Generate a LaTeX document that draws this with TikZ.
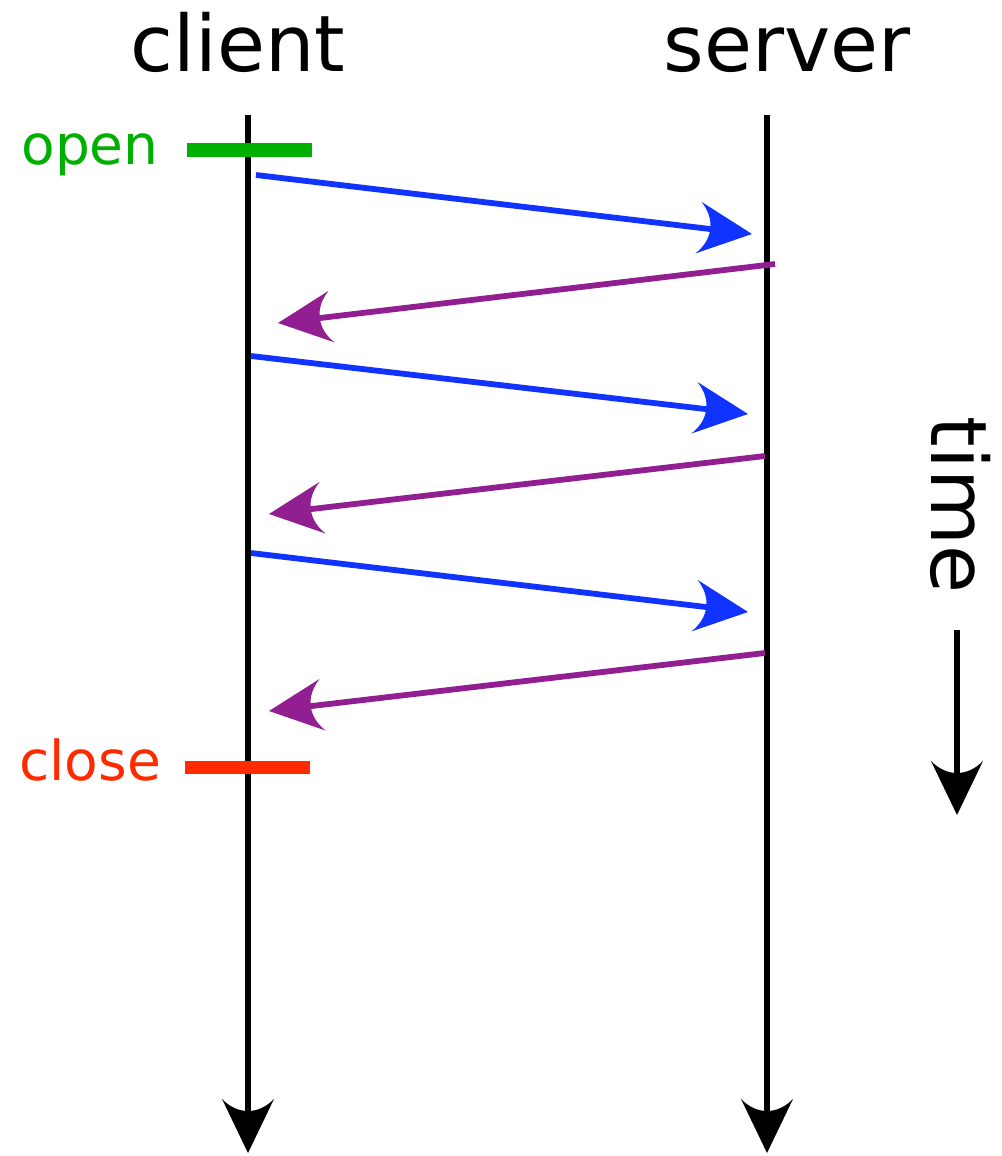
\documentclass[tikz,border=0pt]{standalone}
\usepackage{fontspec}
\setmainfont{DejaVu Sans}
\usetikzlibrary{arrows.meta}
\definecolor{msgblue}{RGB}{17,51,255}
\definecolor{msgpurple}{RGB}{146,31,146}
\definecolor{opengreen}{RGB}{0,176,0}
\definecolor{closered}{RGB}{255,42,0}
\pgfdeclarearrow{
  name = Ink,
  setup code = {
    \pgfarrowssettipend{0pt}
    \pgfarrowssetlineend{-18pt}
    \pgfarrowssetbackend{-27pt}
    \pgfarrowshullpoint{0pt}{0pt}
    \pgfarrowshullpoint{-27pt}{13pt}
    \pgfarrowshullpoint{-27pt}{-13pt}
  },
  drawing code = {
    \pgfpathmoveto{\pgfpointorigin}
    \pgfpathlineto{\pgfpoint{-27pt}{13pt}}
    \pgfpathcurveto{\pgfpoint{-19pt}{5.2pt}}{\pgfpoint{-19pt}{-5.2pt}}{\pgfpoint{-27pt}{-13pt}}
    \pgfpathclose
    \pgfusepathqfill
  }
}
\tikzset{
  lifeline/.style={color=black, line width=3.2pt, -Ink},
  request/.style={color=msgblue, line width=2.9pt, -Ink},
  reply/.style={color=msgpurple, line width=2.9pt, -Ink},
  bigtext/.style={font=\fontsize{39}{46}\selectfont, inner sep=0pt, anchor=base},
  marktext/.style={font=\fontsize{27.5}{33}\selectfont, inner sep=0pt, anchor=base},
  bar/.style={line width=7pt, line cap=butt}
}
\begin{document}
\begin{tikzpicture}[x=0.5pt, y=-0.5pt]
\useasboundingbox (0,0) rectangle (1001,1156);
% titles
\node[bigtext] (client) at (238,72) {client};
\node[bigtext] (server) at (787,72) {server};
% lifelines
\coordinate (ctop) at (248,115);
\coordinate (cbot) at (248,1153);
\coordinate (stop) at (767,115);
\coordinate (sbot) at (767,1153);
\draw[lifeline] (ctop) -- (cbot);
\draw[lifeline] (stop) -- (sbot);
% open / close
\node[marktext, text=opengreen] (open) at (90,164) {open};
\coordinate (o1) at (187,150);
\coordinate (o2) at (312,150);
\draw[bar, opengreen] (o1) -- (o2);
\node[marktext, text=closered] (close) at (90,780) {close};
\coordinate (k1) at (185,767.5);
\coordinate (k2) at (310,767.5);
\draw[bar, closered, line width=6.5pt] (k1) -- (k2);
% messages
\coordinate (a1) at (256,175);  \coordinate (b1) at (752,234);
\coordinate (a2) at (775,264);  \coordinate (b2) at (278,323);
\coordinate (a3) at (251,356);  \coordinate (b3) at (748,414);
\coordinate (a4) at (765,456);  \coordinate (b4) at (269,514);
\coordinate (a5) at (251,553);  \coordinate (b5) at (748,612);
\coordinate (a6) at (765,653);  \coordinate (b6) at (269,711);
\draw[request] (a1) -- (b1);
\draw[reply] (a2) -- (b2);
\draw[request] (a3) -- (b3);
\draw[reply] (a4) -- (b4);
\draw[request] (a5) -- (b5);
\draw[reply] (a6) -- (b6);
% time
\node[bigtext, rotate=-90] (time) at (931,505) {time};
\coordinate (t1) at (957,630);
\coordinate (t2) at (957,815);
\draw[lifeline] (t1) -- (t2);
\end{tikzpicture}
\end{document}
